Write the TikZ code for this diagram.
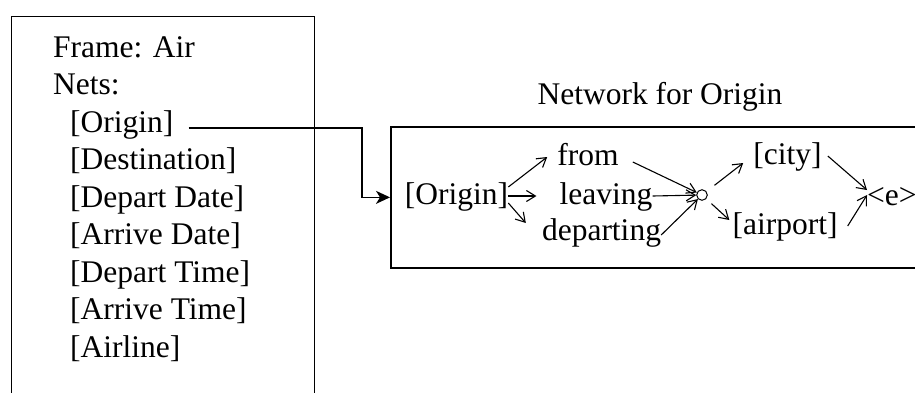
\documentclass[tikz,border=0pt]{standalone}
\usepackage{fontspec}
\setmainfont{Liberation Serif}
\usetikzlibrary{arrows.meta,positioning}

\begin{document}
\begin{tikzpicture}[x=1pt,y=1pt,>={Straight Barb[length=9pt,width=11pt]}]
  \tikzstyle{slotText} = [inner sep=0pt, text height=22pt, text depth=6pt, font={\fontsize{31.5}{37.5}\selectfont}]
  \tikzstyle{frameBox} = [draw, line width=1.3pt, anchor=north west, inner sep=0pt]
  \tikzstyle{netEdge} = [line width=1.1pt, ->];
  \tikzstyle{linkEdge} = [line width=1.3pt, -{Stealth[length=14pt,width=13pt,inset=4pt]}];

  \path[use as bounding box, clip] (0,0) rectangle (915,-392);

  % frame with its nets
  \node[frameBox, minimum width=303pt, minimum height=420pt] (frame) at (11,-16) {};
  \node[slotText, anchor=base west] (frameName) at (53,-57) {Frame: Air};
  \node[slotText, anchor=base west] (nets) at (53,-94.5) {Nets:};
  \foreach \slot [count=\i] in {Origin,Destination,Depart Date,Arrive Date,Depart Time,Arrive Time,Airline}
    \node[slotText, anchor=base west] (slot\i) at (70,{-94.5-37.5*\i}) {[\slot]};

  % network for origin
  \node[frameBox, line width=1.7pt, minimum width=560pt, minimum height=141pt] (net) at (390,-126) {};
  \node[slotText, anchor=base] (netTitle) at (660,-104) {Network for Origin};

  \node[slotText, anchor=base] (nOrigin)  at (456.5,-204) {[Origin]};
  \node[slotText, anchor=base] (nFrom)    at (588,-165)   {from};
  \node[slotText, anchor=base] (nLeaving) at (606,-204)   {leaving};
  \node[slotText, anchor=base] (nDepart)  at (601.5,-240) {departing};
  \node[draw, circle, line width=1pt, minimum size=10.6pt, inner sep=0pt] (hub) at (702,-195) {};
  \node[slotText, anchor=base] (nCity)    at (787.5,-164) {[city]};
  \node[slotText, anchor=base] (nAirport) at (785,-234)   {[airport]};
  \node[slotText, anchor=base west] (nEnd) at (867,-205) {<e>};

  \draw[netEdge] ([yshift=9pt]nOrigin.east) -- ([xshift=-10pt]nFrom.west);
  \draw[netEdge] (nOrigin.east) -- ([xshift=-23pt]nLeaving.west);
  \draw[netEdge] ([yshift=-7pt]nOrigin.east) -- ([xshift=-16pt,yshift=9pt]nDepart.west);
  \draw[netEdge] ([xshift=14pt,yshift=-5pt]nFrom.east) -- (hub);
  \draw[netEdge] (nLeaving.east) -- (hub);
  \draw[netEdge] ([yshift=-3pt]nDepart.east) -- (hub);
  \draw[netEdge, shorten <=10pt] (hub) -- ([xshift=-10pt,yshift=-7pt]nCity.west);
  \draw[netEdge, shorten <=7pt] (hub) -- ([xshift=-3pt,yshift=6pt]nAirport.west);
  \draw[netEdge] ([xshift=6pt]nCity.east) -- ([yshift=7pt]nEnd.west);
  \draw[netEdge] ([xshift=10pt]nAirport.east) -- ([yshift=2pt]nEnd.west);

  % link from the slot to its network
  \coordinate (bend) at (362,-128);
  \draw[linkEdge] (slot1.east) ++(15pt,-4pt) -- (bend) |- (net.west);
\end{tikzpicture}
\end{document}
